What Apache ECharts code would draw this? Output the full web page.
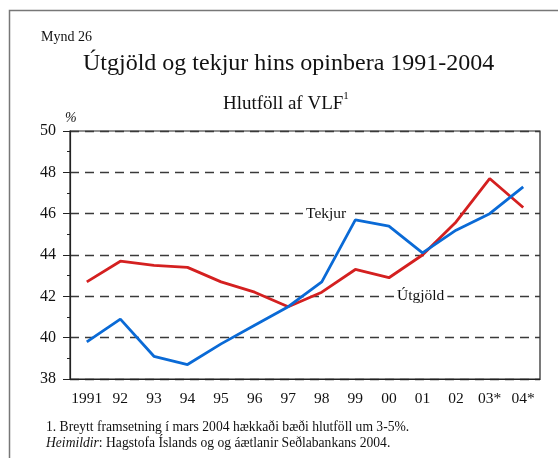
<!DOCTYPE html>
<html>
<head>
<meta charset="utf-8">
<script src="https://cdn.jsdelivr.net/npm/echarts@6/dist/echarts.min.js"></script>
<style>
	html, body { margin: 0; padding: 0; background: #fff; }
	#chart { width: 558px; height: 458px; }
</style>
</head>
<body>
<div id="chart"></div>
<script>
var years = ['1991', '92', '93', '94', '95', '96', '97', '98', '99', '00', '01', '02', '03*', '04*'];
var utgjold = [42.7, 43.7, 43.5, 43.4, 42.7, 42.2, 41.5, 42.2, 43.3, 42.9, 44.0, 45.6, 47.7, 46.3];
var tekjur = [39.8, 40.9, 39.1, 38.7, 39.7, 40.6, 41.5, 42.7, 45.7, 45.4, 44.1, 45.2, 46.0, 47.3];

var serif = '"Liberation Serif", "DejaVu Serif", serif';

var myChart = echarts.init(document.getElementById('chart'));
var option = {
	animation: false,
	textStyle: { fontFamily: serif },
	grid: {
		left: 70,
		right: 18,
		top: 131,
		bottom: 79,
		show: true,
		borderColor: '#222',
		borderWidth: 1.2
	},
	xAxis: {
		type: 'category',
		data: years,
		boundaryGap: true,
		axisLine: { lineStyle: { color: '#222', width: 1.2 } },
		axisTick: { alignWithLabel: true, length: 6, lineStyle: { color: '#222' } },
		axisLabel: { color: '#111', fontSize: 15.5, fontFamily: serif, margin: 12, interval: 0 }
	},
	yAxis: {
		type: 'value',
		min: 38,
		max: 50,
		interval: 2,
		axisLine: { show: true, lineStyle: { color: '#222', width: 1.2 } },
		axisTick: { show: true, length: 7, lineStyle: { color: '#222' } },
		minorTick: { show: true, splitNumber: 2, length: 3, lineStyle: { color: '#222' } },
		axisLabel: { color: '#111', fontSize: 16, fontFamily: serif, margin: 14 },
		splitLine: { lineStyle: { color: '#3a3a3a', type: [9, 6], width: 1.3 } }
	},
	series: [{
		name: 'Útgjöld',
		type: 'line',
		data: utgjold,
		symbol: 'none',
		lineStyle: { color: '#d42020', width: 2.8 },
		z: 3
	}, {
		name: 'Tekjur',
		type: 'line',
		data: tekjur,
		symbol: 'none',
		lineStyle: { color: '#0a6ad6', width: 2.8 },
		z: 4
	}],
	graphic: [{
		type: 'rect',
		shape: { x: 9.5, y: 10.5, width: 700, height: 700 },
		style: { fill: 'none', stroke: '#777', lineWidth: 1.5 },
		silent: true
	}, {
		type: 'text',
		left: 41,
		top: 30,
		style: { text: 'Mynd 26', font: '14px ' + serif, fill: '#111' }
	}, {
		type: 'text',
		left: 83,
		top: 52,
		style: { text: 'Útgjöld og tekjur hins opinbera 1991-2004', font: '24px ' + serif, fill: '#111' }
	}, {
		type: 'text',
		left: 223,
		top: 91,
		style: {
			text: '{a|Hlutföll af VLF}{s|1}',
			fill: '#111',
			rich: {
				a: { fontSize: 19, fontFamily: serif, verticalAlign: 'bottom', lineHeight: 23 },
				s: { fontSize: 11, fontFamily: serif, verticalAlign: 'top', lineHeight: 23 }
			}
		}
	}, {
		type: 'text',
		left: 65,
		top: 111,
		style: { text: '%', font: 'italic 14px ' + serif, fill: '#111' }
	}, {
		type: 'text',
		left: 303,
		top: 206,
		z: 10,
		style: { text: 'Tekjur', font: '15.5px ' + serif, fill: '#111', backgroundColor: '#fff', padding: [0, 3] }
	}, {
		type: 'text',
		left: 394,
		top: 288,
		z: 10,
		style: { text: 'Útgjöld', font: '15.5px ' + serif, fill: '#111', backgroundColor: '#fff', padding: [0, 3] }
	}, {
		type: 'text',
		left: 46,
		top: 420,
		style: { text: '1. Breytt framsetning í mars 2004 hækkaði bæði hlutföll um 3-5%.', font: '13.6px ' + serif, fill: '#111' }
	}, {
		type: 'text',
		left: 46,
		top: 436,
		style: {
			text: '{i|Heimildir}: Hagstofa Íslands og og áætlanir Seðlabankans 2004.',
			font: '13.6px ' + serif,
			fill: '#111',
			rich: { i: { fontStyle: 'italic', fontSize: 13.6, fontFamily: serif } }
		}
	}]
};
myChart.setOption(option);
</script>
</body>
</html>
